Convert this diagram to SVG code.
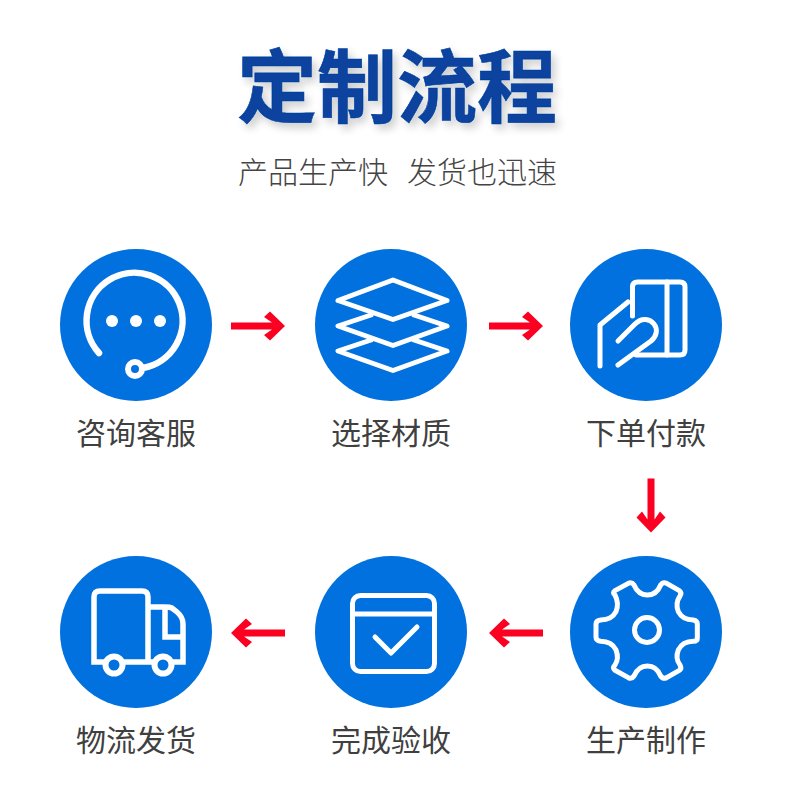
<svg xmlns="http://www.w3.org/2000/svg" width="800" height="800" viewBox="0 0 800 800">
<style>
text{font-family:"Noto Sans CJK SC","Noto Sans",sans-serif;text-anchor:middle}
.title{font-size:80px;font-weight:700;fill:#07429e;stroke:#07429e;stroke-width:.6px}
.sub{font-size:30px;fill:#444;font-weight:300}
.label{font-size:30px;fill:#404040;font-weight:400}
.disc{fill:#0071de}
.ic{fill:none;stroke:#fff;stroke-width:5.500;stroke-linecap:round;stroke-linejoin:round}
.arrow{fill:#fb0020}
</style>
<defs>
<filter id="sh" x="-10%" y="-20%" width="120%" height="150%">
<feGaussianBlur in="SourceAlpha" stdDeviation="4"/>
<feOffset dx="4" dy="5"/>
<feComponentTransfer><feFuncA type="linear" slope="0.2"/></feComponentTransfer>
<feMerge><feMergeNode/><feMergeNode in="SourceGraphic"/></feMerge>
</filter>
<polygon id="arr" points="12,-14.500 27,0 12,14.500 6,9 14,3.500 -27,3.500 -27,-3.500 14,-3.500 6,-9"/>
</defs>
<rect width="800" height="800" fill="#fff"/>
<g id="heading">
<text class="title" x="397" y="116" filter="url(#sh)">定制流程</text>
<text class="sub" x="313" y="183">产品生产快</text>
<text class="sub" x="482" y="183">发货也迅速</text>
</g>
<g id="connectors" class="arrow">
<use href="#arr" transform="translate(258 326)"/>
<use href="#arr" transform="translate(516 326)"/>
<use href="#arr" transform="translate(651 505.500) rotate(90)"/>
<use href="#arr" transform="translate(516 633) rotate(180)"/>
<use href="#arr" transform="translate(258 633) rotate(180)"/>
</g>
<g id="node1">
<circle class="disc" cx="136" cy="325" r="76"/>
<path class="ic" style="stroke-width:6.500" d="M99 353A48 48 0 1 1 143 368"/>
<circle cx="135" cy="369" r="7" fill="#0071de" stroke="#fff" stroke-width="6"/>
<g fill="#fff"><circle cx="112" cy="321" r="6"/><circle cx="136" cy="321" r="6"/><circle cx="160" cy="321" r="6"/></g>
<text class="label" x="136" y="444">咨询客服</text>
</g>
<g id="node2">
<circle class="disc" cx="391" cy="325" r="76"/>
<path class="ic" style="stroke-width:5" d="M393 280L447 300.500L393 319.500L338 300.500Z"/>
<path class="ic" style="stroke-width:5" d="M371 315L338 326L393 345.500L447 326L414 315"/>
<path class="ic" style="stroke-width:5" d="M371 340L338 351L393 370.500L447 351L414 340"/>
<text class="label" x="391" y="444">选择材质</text>
</g>
<g id="node3">
<circle class="disc" cx="646" cy="325" r="76"/>
<path class="ic" style="stroke-width:5" d="M632.500 316V287Q632.500 282 637.500 282H680Q685 282 685 287V350Q685 355 680 355H636"/>
<path class="ic" style="stroke-width:5" d="M667 282V355"/>
<path class="ic" style="stroke-width:5" d="M600 366V325L628 302"/>
<path class="ic" style="stroke-width:5" d="M618 341L635 324C642 317 650 319 654 324C658 329 657 336 651 341L618 365"/>
<text class="label" x="646" y="444">下单付款</text>
</g>
<g id="node4">
<circle class="disc" cx="646" cy="632" r="76"/>
<path class="ic" transform="translate(560 470) scale(.3333)" style="stroke-width:15" d="M165 375Q156 368 165 362L205 340Q215 335 222 345Q235 375 262 375Q290 375 302 345Q309 335 320 340L358 362Q366 368 360 378Q345 400 355 425Q368 450 400 450Q412 452 412 462L412 505Q412 514 400 514Q368 514 355 540Q345 565 360 585Q366 595 358 601L320 623Q309 628 302 618Q290 588 262 588Q235 588 222 618Q215 628 205 623L165 601Q156 595 165 585Q178 565 168 540Q155 514 122 514Q108 512 108 502L108 462Q108 452 122 450Q155 450 168 425Q178 400 165 375Z"/>
<circle class="ic" style="stroke-width:5" cx="647" cy="630" r="12.500"/>
<text class="label" x="646" y="751">生产制作</text>
</g>
<g id="node5">
<circle class="disc" cx="391" cy="632" r="76"/>
<rect class="ic" x="352.500" y="595.500" width="82" height="76" rx="8" style="stroke-width:5"/>
<path class="ic" style="stroke-width:5" d="M352.500 614H434.500"/>
<path class="ic" style="stroke-width:5" d="M375 637L391 653L417 627"/>
<text class="label" x="391" y="751">完成验收</text>
</g>
<g id="node6">
<circle class="disc" cx="136" cy="632" r="76"/>
<path class="ic" style="stroke-linecap:butt;stroke-linejoin:miter" d="M148 662V597Q148 591 142 591H100Q94 591 94 597V662H183V624Q183 617 177 612L172 608Q170 607 165 607H148"/>
<path class="ic" style="stroke-linecap:butt;stroke-linejoin:miter" d="M165 607V637H183"/>
<circle cx="114" cy="665" r="8.500" fill="#0071de" stroke="#fff" stroke-width="6"/>
<circle cx="163" cy="665" r="8.500" fill="#0071de" stroke="#fff" stroke-width="6"/>
<text class="label" x="136" y="751">物流发货</text>
</g>
</svg>
